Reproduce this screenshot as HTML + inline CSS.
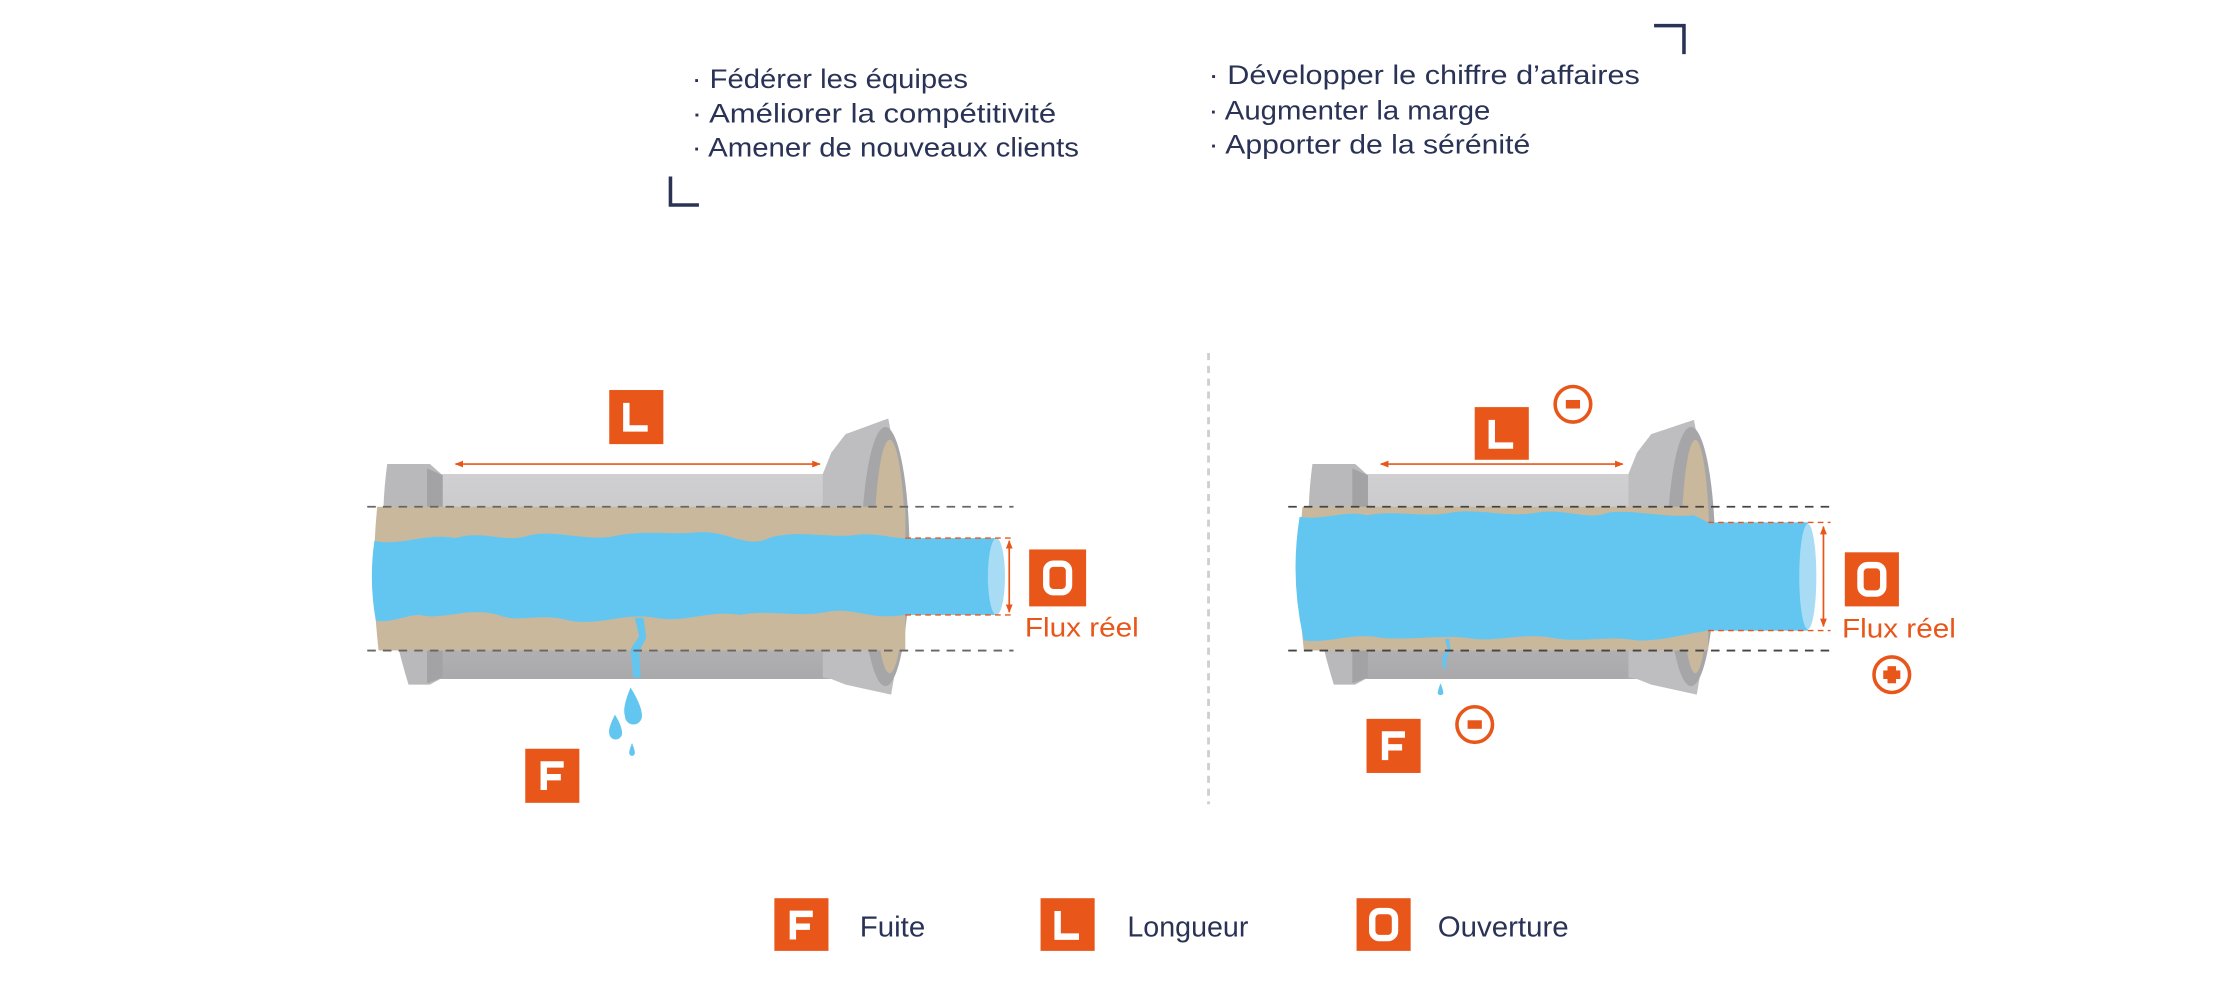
<!DOCTYPE html>
<html><head><meta charset="utf-8"><style>
html,body{margin:0;padding:0;background:#fff;}
svg{display:block;}
text{font-family:"Liberation Sans Narrow","Liberation Sans",sans-serif;}
</style></head><body>
<svg width="2232" height="995" viewBox="0 0 1568 699" xmlns="http://www.w3.org/2000/svg">
<defs>
<linearGradient id="body" x1="0" y1="0" x2="0" y2="1">
<stop offset="0" stop-color="#d0d0d2"/><stop offset="0.5" stop-color="#c2c2c4"/><stop offset="1" stop-color="#a9a9ab"/>
</linearGradient>
<marker id="ah" viewBox="0 0 10 10" refX="9" refY="5" markerWidth="5" markerHeight="5" orient="auto-start-reverse"><path d="M0,1 L10,5 L0,9 z" fill="#e8561a"/></marker>
</defs>

<path d="M471,124 V144 H491" fill="none" stroke="#2a3356" stroke-width="2.5"/>
<path d="M1162,18 H1183 V38" fill="none" stroke="#2a3356" stroke-width="2.5"/>

<g fill="#2a3356" font-size="19">
<text x="486" y="62" textLength="194" lengthAdjust="spacingAndGlyphs">· Fédérer les équipes</text>
<text x="486" y="86" textLength="256" lengthAdjust="spacingAndGlyphs">· Améliorer la compétitivité</text>
<text x="486" y="110" textLength="272" lengthAdjust="spacingAndGlyphs">· Amener de nouveaux clients</text>
<text x="849" y="59" textLength="303" lengthAdjust="spacingAndGlyphs">· Développer le chiffre d’affaires</text>
<text x="849" y="84" textLength="198" lengthAdjust="spacingAndGlyphs">· Augmenter la marge</text>
<text x="849" y="108" textLength="226" lengthAdjust="spacingAndGlyphs">· Apporter de la sérénité</text>
</g>

<line x1="849" y1="248" x2="849" y2="565" stroke="#cfcfcf" stroke-width="2" stroke-dasharray="5 4"/>

<!-- LEFT PIPE -->
<g>
<rect x="300" y="333" width="284" height="144" fill="url(#body)"/>
<path d="M272,326 L302,326 L311,334 L311,476 L302,481 L287,481 Q262,400 272,326 Z" fill="#b9b9bb"/>
<path d="M300,329 L311,334 L311,476 L300,480 Z" fill="#a3a3a5"/>
<path d="M578,333 L584,318 L594,305 L624,294 Q644,390 626,488 L594,481 L584,477 L578,476 Z" fill="#bebec0"/>
<ellipse cx="622" cy="391" rx="17" ry="91" fill="#a6a6a8"/>
<ellipse cx="625" cy="391" rx="11" ry="82" fill="#c9b89c"/>
<path d="M265,356 H636 V457 H266 Q260,406 265,356 Z" fill="#c9b89c"/>
<path d="M263,380 C280,384 300,374 320,378 C340,372 355,382 372,376 C390,372 410,380 430,377 C450,372 470,376 490,374 C510,372 525,386 540,378 C560,372 580,378 600,376 C615,374 625,378 636,378 L700,378 L700,432 L636,432 C610,436 600,426 580,430 C560,434 540,428 520,432 C500,428 480,438 460,434 C440,430 420,440 400,436 C380,430 365,438 350,432 C330,426 310,436 295,432 C285,432 275,438 264,436 Q259,408 263,380 Z" fill="#62c6f1"/>
<ellipse cx="700" cy="405" rx="6" ry="27" fill="#a8dcf5"/>
<path d="M446,434 L449,447 L443,456 L445,476 L450,476 L449,458 L454,448 L452,434 Z" fill="#62c6f1"/>
<path d="M443,483 Q437,497 439,503 A6,6 0 0 0 451,503 Q451,496 443,483 Z" fill="#62c6f1"/>
<path d="M432,502 Q427,512 428,515 A4.5,4.5 0 0 0 437,515 Q437,510 432,502 Z" fill="#62c6f1"/>
<path d="M444,522 Q442,527 442,529 A2,2 0 0 0 446,529 Q446,527 444,522 Z" fill="#62c6f1"/>
<line x1="258" y1="356" x2="712" y2="356" stroke="#666" stroke-width="1.3" stroke-dasharray="6 5"/>
<line x1="258" y1="457" x2="712" y2="457" stroke="#666" stroke-width="1.3" stroke-dasharray="6 5"/>
<line x1="636" y1="378" x2="712" y2="378" stroke="#e8561a" stroke-width="1" stroke-dasharray="4 3"/>
<line x1="636" y1="432" x2="712" y2="432" stroke="#e8561a" stroke-width="1" stroke-dasharray="4 3"/>
<line x1="709" y1="380" x2="709" y2="430" stroke="#e8561a" stroke-width="1.2" marker-start="url(#ah)" marker-end="url(#ah)"/>
<line x1="320" y1="326" x2="576" y2="326" stroke="#e8561a" stroke-width="1.2" marker-start="url(#ah)" marker-end="url(#ah)"/>
</g>

<!-- RIGHT PIPE -->
<g>
<rect x="955" y="333" width="195" height="144" fill="url(#body)"/>
<path d="M922,326 L952,326 L961,334 L961,476 L952,481 L937,481 Q912,400 922,326 Z" fill="#b9b9bb"/>
<path d="M950,329 L961,334 L961,476 L950,480 Z" fill="#a3a3a5"/>
<path d="M1144,333 L1150,318 L1160,305 L1190,295 Q1210,390 1192,488 L1160,481 L1150,477 L1144,476 Z" fill="#bebec0"/>
<ellipse cx="1188" cy="391" rx="17" ry="91" fill="#a6a6a8"/>
<ellipse cx="1191" cy="391" rx="10" ry="82" fill="#c9b89c"/>
<path d="M915,356 H1200 V457 H916 Q910,406 915,356 Z" fill="#c9b89c"/>
<path d="M913,363 C930,366 945,358 960,362 C980,358 1000,364 1020,360 C1040,357 1060,364 1080,360 C1100,357 1115,366 1130,360 C1150,358 1170,364 1190,362 L1200,367 L1270,367 L1270,443 L1200,443 C1180,446 1170,450 1150,450 C1130,446 1110,452 1090,448 C1070,444 1050,452 1030,448 C1010,446 990,450 970,448 C950,444 935,452 916,450 Q906,406 913,363 Z" fill="#62c6f1"/>
<ellipse cx="1270" cy="405" rx="6" ry="37" fill="#a8dcf5"/>
<path d="M1015,449 L1017,456 L1013,462 L1014,470 L1016,470 L1016,463 L1019,456 L1018,449 Z" fill="#62c6f1"/>
<path d="M1012,480 Q1010,485 1010,487 A2.2,2.2 0 0 0 1014,487 Q1014,485 1012,480 Z" fill="#62c6f1"/>
<line x1="905" y1="356" x2="1285" y2="356" stroke="#444" stroke-width="1.3" stroke-dasharray="6 5"/>
<line x1="905" y1="457" x2="1285" y2="457" stroke="#444" stroke-width="1.3" stroke-dasharray="6 5"/>
<line x1="1200" y1="367" x2="1286" y2="367" stroke="#e8561a" stroke-width="1" stroke-dasharray="4 3"/>
<line x1="1200" y1="443" x2="1286" y2="443" stroke="#e8561a" stroke-width="1" stroke-dasharray="4 3"/>
<line x1="1281" y1="370" x2="1281" y2="440" stroke="#e8561a" stroke-width="1.2" marker-start="url(#ah)" marker-end="url(#ah)"/>
<line x1="970" y1="326" x2="1140" y2="326" stroke="#e8561a" stroke-width="1.2" marker-start="url(#ah)" marker-end="url(#ah)"/>
</g>

<g fill="#e8561a">
<rect x="428" y="274" width="38" height="38"/>
<rect x="723" y="386" width="40" height="40"/>
<rect x="369" y="526" width="38" height="38"/>
<rect x="1036" y="286" width="38" height="37"/>
<rect x="1296" y="388" width="38" height="38"/>
<rect x="960" y="505" width="38" height="38"/>
<rect x="544" y="631" width="38" height="37"/>
<rect x="731" y="631" width="38" height="37"/>
<rect x="953" y="631" width="38" height="37"/>
</g>
<g fill="none" stroke="#fff" stroke-width="4.5">
<path d="M440,283 V301 H455"/>
<rect x="735" y="396" width="16" height="20" rx="5"/>
<path d="M382,555 V537 H396 M382,546 H394"/>
<path d="M1048,295 V313 H1063"/>
<rect x="1307" y="397" width="16" height="20" rx="5"/>
<path d="M973,534 V516 H987 M973,525 H985"/>
<path d="M557,660 V642 H571 M557,651 H569"/>
<path d="M743,640 V658 H758"/>
<rect x="964" y="640" width="16" height="19" rx="5"/>
</g>

<g fill="none" stroke="#e8561a" stroke-width="2.5">
<circle cx="1105" cy="284" r="12.5"/>
<circle cx="1036" cy="509" r="12.5"/>
<circle cx="1329" cy="474" r="12.5"/>
</g>
<g fill="#e8561a">
<rect x="1100" y="281" width="10" height="6"/>
<rect x="1031" y="506" width="10" height="6"/>
<rect x="1323" y="471" width="12" height="6"/>
<rect x="1326" y="468" width="6" height="12"/>
</g>

<g fill="#e8561a" font-size="19">
<text x="720" y="447" textLength="80" lengthAdjust="spacingAndGlyphs">Flux réel</text>
<text x="1294" y="448" textLength="80" lengthAdjust="spacingAndGlyphs">Flux réel</text>
</g>

<g fill="#2a3356" font-size="20">
<text x="604" y="658" textLength="46" lengthAdjust="spacingAndGlyphs">Fuite</text>
<text x="792" y="658" textLength="85" lengthAdjust="spacingAndGlyphs">Longueur</text>
<text x="1010" y="658" textLength="92" lengthAdjust="spacingAndGlyphs">Ouverture</text>
</g>
</svg>
</body></html>
